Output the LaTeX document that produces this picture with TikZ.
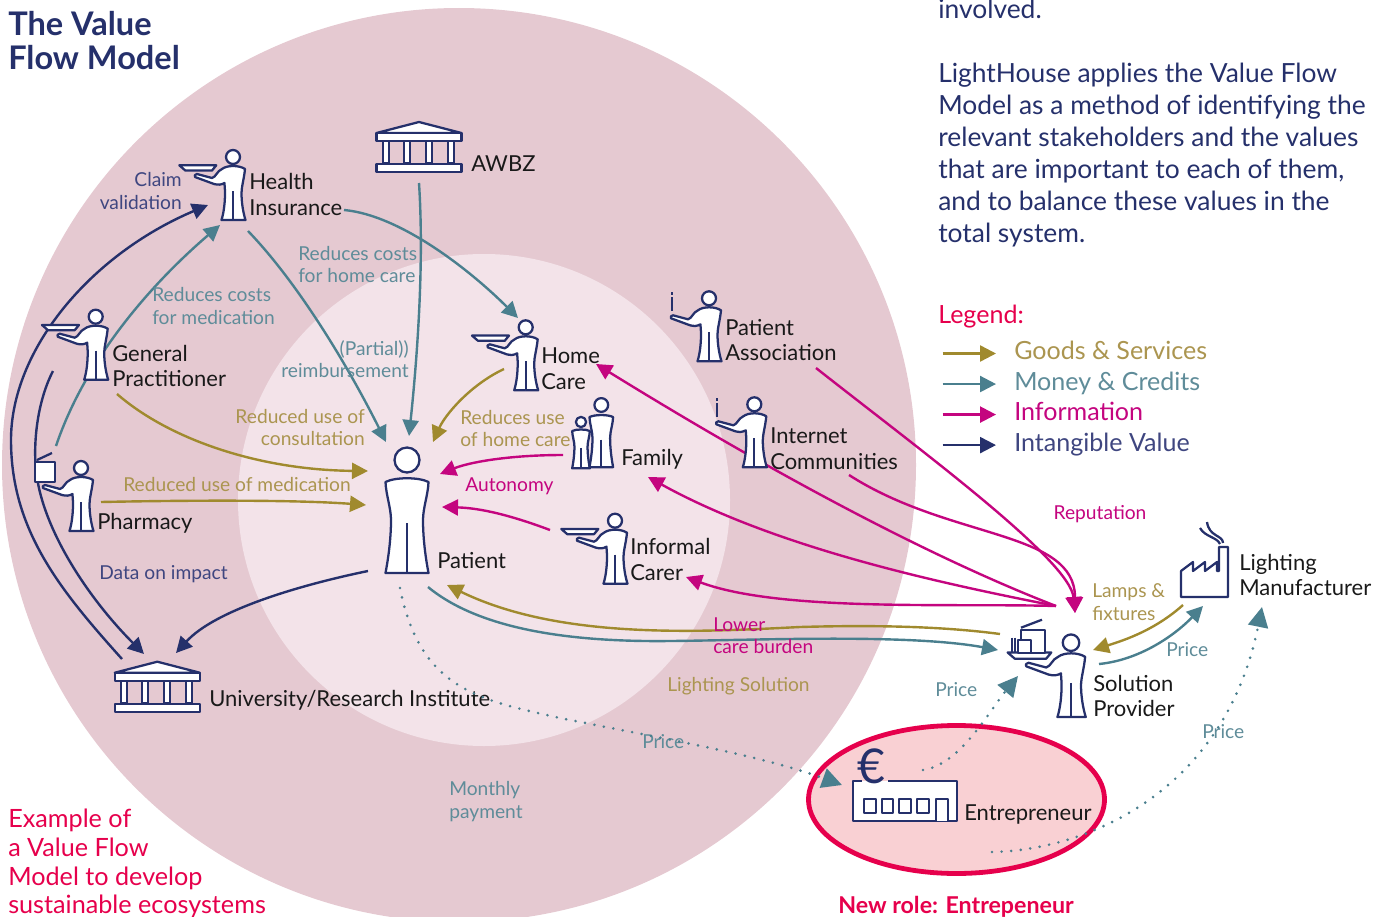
\documentclass[tikz,border=0pt]{standalone}
\usepackage{fontspec}
\setmainfont{Lato}
\usetikzlibrary{arrows.meta,positioning,shapes.geometric,backgrounds}
\definecolor{navy}{HTML}{25306B}
\definecolor{gold}{HTML}{A08A2E}
\definecolor{teal}{HTML}{4A7F8E}
\definecolor{magenta}{HTML}{C4057F}
\definecolor{crimson}{HTML}{E6004C}
\definecolor{goldtext}{HTML}{AB9550}
\definecolor{tealtext}{HTML}{5F8C99}
\definecolor{navytext}{HTML}{3F4680}
\definecolor{outerpink}{HTML}{E5C9D1}
\definecolor{innerpink}{HTML}{F3E3E9}
\definecolor{rolepink}{HTML}{F9D0D3}
\tikzstyle{icon} = [draw=navy, fill=white, line width=1.7pt, line join=round]
\tikzstyle{actor} = [inner sep=0pt, align=left, text=black!90,
    font=\fontsize{16.5}{19.4}\selectfont]
\tikzstyle{note} = [inner sep=0pt, font=\fontsize{14.4}{16.8}\selectfont]
\tikzstyle{legendtext} = [inner sep=0pt, anchor=west, text height=12pt, text depth=3pt,
    font=\fontsize{18.8}{22}\selectfont]
\tikzstyle{line} = [draw, line width=1.8pt, -{Triangle[length=12pt,width=12pt]}]
\tikzstyle{dots} = [draw=teal, line width=2.2pt, line cap=round,
    dash pattern=on 0pt off 7.2pt, -{Triangle[length=15pt,width=15pt]}]
\tikzset{
    waiter/.pic={
        \draw [icon] (0,0) circle (7);
        \draw [icon] (-11,12) .. controls (-6,8) and (6,8) .. (12,12)
            .. controls (11,22) and (8.5,30) .. (8.5,36)
            .. controls (8.5,45) and (10,55) .. (12.5,63) -- (-11.5,63)
            .. controls (-9,55) and (-8,45) .. (-8,36)
            .. controls (-8,32) and (-8.5,28) .. (-8.5,26)
            .. controls (-12,28) and (-15,28) .. (-19,27) -- (-38,20)
            .. controls (-39,19) and (-38,17) .. (-36,17) -- (-21,21)
            .. controls (-17,20) and (-16,14) .. (-11,12) -- cycle;
        \draw [icon] (0,34) -- (0,63);
    },
    tray/.pic={
        \draw [icon] (-53.7,8.3) -- (-16.7,8.3) -- (-21,13.5) -- (-47.7,13.5) -- cycle;
    },
    info/.pic={
        \draw [icon] (-37,-6) -- (-37,-3.5) (-37,-1) -- (-37,13);
    },
    person/.pic={
        \draw [icon] (0,0) circle (12.5);
        \draw [icon] (-21.5,22) .. controls (-12,17) and (12,17) .. (21.5,22)
            .. controls (21,35) and (16,48) .. (16,60)
            .. controls (16,80) and (19,100) .. (21.5,113) -- (-21.5,113)
            .. controls (-19,100) and (-16,80) .. (-16,60)
            .. controls (-16,48) and (-21,35) .. (-21.5,22) -- cycle;
        \draw [icon] (0,63) -- (0,113);
    },
    bank/.pic={
        \draw [icon] (0,0) -- (42.5,11) -- (-42.5,11) -- cycle;
        \draw [icon] (-42.5,11) rectangle (42.5,19);
        \draw [icon] (-36,19) rectangle (-30,41);
        \draw [icon] (-15,19) rectangle (-9,41);
        \draw [icon] (7,19) rectangle (13,41);
        \draw [icon] (29,19) rectangle (35,41);
        \draw [icon] (-42.5,42) rectangle (42.5,50);
    },
    goods/.pic={
        \draw [icon] (-50,-13) rectangle (-26,10);
        \draw [icon] (-53,-3) rectangle (-40,10);
        \draw [icon] (-50,-15) -- (-29,-23);
        \draw [icon] (-59,-5) -- (-59,10) (-56,-5) -- (-56,10);
    },
    factory/.pic={
        \draw [icon] (0,-26) -- (12,-35) -- (12,-26) -- (24,-35) -- (24,-26) -- (36,-35)
            -- (36,-26) -- (38,-26) -- (38,-50) -- (47,-50) -- (47,0) -- (0,0) -- cycle;
        \draw [icon, fill=none] (42,-54) .. controls (42,-62) and (28,-60) .. (26,-75)
            (39,-53) .. controls (36,-60) and (24,-60) .. (19,-69);
    },
    workshop/.pic={
        \fill [white] (0,0) rectangle (104,40);
        \draw [icon, fill=none] (9,0) -- (0,0) -- (0,40) -- (104,40) -- (104,0) -- (35,0);
        \draw [icon] (11,18) rectangle (23,32);
        \draw [icon] (29,18) rectangle (40,32);
        \draw [icon] (46,18) rectangle (58,32);
        \draw [icon] (64,18) rectangle (76,32);
        \draw [icon] (83,40) -- (83,18) -- (95,18) -- (95,40);
    }
}
\begin{document}
\begin{tikzpicture}[x=0.75pt, y=-0.75pt]
    \useasboundingbox (0,0) rectangle (1385,917);
    % Place nodes
    \pic at (233,157) {waiter};
    \pic at (233,157) {tray};
    \pic at (95.7,316.7) {waiter};
    \pic at (95.7,316.7) {tray};
    \pic at (81,468) {waiter};
    \pic at (525.7,327.3) {waiter};
    \pic at (525.7,327.3) {tray};
    \pic at (615,520.7) {waiter};
    \pic at (615,520.7) {tray};
    \pic at (709,298.3) {waiter};
    \pic at (709,298.3) {info};
    \pic at (754.3,404.3) {waiter};
    \pic at (754.3,404.3) {info};
    \pic [scale=1.18] at (1071,642.7) {waiter};
    \pic [scale=1.18] at (1071,642.7) {tray};
    \pic at (1071,642.7) {goods};
    \pic at (407,460) {person};
    \pic [scale=0.41] at (581,422) {person};
    \pic [scale=0.55] at (601.3,405) {person};
    \pic at (419,122) {bank};
    \pic at (157.3,661.7) {bank};
    \pic at (1181,597) {factory};
    \draw [icon] (35,461.7) rectangle (55,482.3);
    \draw [icon] (37,460) -- (52,453);
    \node [draw=crimson, fill=rolepink, line width=3.6pt, ellipse, inner sep=0pt,
        minimum width=222pt, minimum height=111pt] (role) at (956.5,799.5) {};
    \pic at (853,781) {workshop};
    \node [inner sep=0pt, text=navy, font=\fontsize{36}{36}\selectfont] (euro) at (871,766) {€};

    \node [actor, anchor=west] (hi) at (249,194.5) {Health\\Insurance};
    \node [actor, anchor=west] (awbz) at (471,164) {AWBZ};
    \node [actor, anchor=west] (gp) at (112,366) {General\\Practitioner};
    \node [actor, anchor=west] (ph) at (97,523) {Pharmacy};
    \node [actor, anchor=west] (hc) at (541,369) {Home\\Care};
    \node [actor, anchor=west] (pa) at (725,340) {Patient\\Association};
    \node [actor, anchor=west] (ic) at (770,449) {Internet\\Communities};
    \node [actor, anchor=west] (fam) at (621,459) {Family};
    \node [actor, anchor=west] (car) at (630,559.5) {Informal\\Carer};
    \node [actor, anchor=west] (pat) at (437,561) {Patient};
    \node [actor, anchor=west] (uni) at (209,700) {University/Research Institute};
    \node [actor, anchor=west] (sol) at (1093,696) {Solution\\Provider};
    \node [actor, anchor=west] (man) at (1239,575) {Lighting\\Manufacturer};
    \node [actor, anchor=west] (ent) at (964,814) {Entrepreneur};

    \node [note, anchor=east, align=right, text=navytext] (claim) at (182,191) {Claim\\validation};
    \node [note, anchor=west, align=left, text=tealtext] (rcm) at (152,306) {Reduces costs\\for medication};
    \node [note, anchor=west, align=left, text=tealtext] (rch) at (298,264.5) {Reduces costs\\for home care};
    \node [note, anchor=east, align=right, text=tealtext] (reimb) at (409,359) {(Partial))\\reimbursement};
    \node [note, anchor=east, align=right, text=goldtext] (ruc) at (365,427.5) {Reduced use of\\consultation};
    \node [note, anchor=west, align=left, text=goldtext] (ruh) at (460,428.5) {Reduces use\\of home care};
    \node [note, anchor=west, text=goldtext] (rum) at (123,484.5) {Reduced use of medication};
    \node [note, anchor=west, text=magenta] (aut) at (465,486) {Autonomy};
    \node [note, anchor=west, text=navytext] (dat) at (99,574.5) {Data on impact};
    \node [note, text=magenta] (rep) at (1100,514) {Reputation};
    \node [note, anchor=west, align=left, text=goldtext] (lamps) at (1092,602) {Lamps \&\\fixtures};
    \node [note, anchor=west, align=left, text=magenta] (burden) at (713,635.5) {Lower\\care burden};
    \node [note, anchor=west, text=goldtext] (sol2) at (667,686.5) {Lighting Solution};
    \node [note, anchor=west, text=tealtext] (price1) at (935,690) {Price};
    \node [note, anchor=west, text=tealtext] (price2) at (1166,650) {Price};
    \node [note, anchor=west, text=tealtext] (price3) at (642,741.5) {Price};
    \node [note, anchor=west, text=tealtext] (price4) at (1202,731.5) {Price};
    \node [note, anchor=west, align=left, text=tealtext] (pay) at (449,801.5) {Monthly\\payment};

    \node [inner sep=0pt, anchor=west, align=left, text=navy, font=\bfseries\fontsize{24.4}{26}\selectfont]
        (title) at (8,40.5) {The Value\\Flow Model};
    \node [inner sep=0pt, anchor=north west, align=left, text=navy, font=\fontsize{19.8}{24}\selectfont]
        (story) at (938,-1) {involved.\\[24pt]LightHouse applies the Value Flow\\Model as a method of identifying the\\relevant stakeholders and the values\\that are important to each of them,\\and to balance these values in the\\total system.};
    \node [inner sep=0pt, anchor=west, text=crimson, font=\fontsize{18.8}{22}\selectfont] (legend) at (938,317) {Legend:};
    \node [legendtext, text=goldtext] (goods) at (1014,353.5) {Goods \& Services};
    \node [legendtext, text=tealtext, below=7.5pt of goods.south west, anchor=north west] (money) {Money \& Credits};
    \node [legendtext, text=magenta, below=7.5pt of money.south west, anchor=north west] (inf) {Information};
    \node [legendtext, text=navytext, below=7.5pt of inf.south west, anchor=north west] (intan) {Intangible Value};
    \coordinate [left=13.5pt of goods.west] (goodsB);
    \coordinate [left=40pt of goodsB] (goodsA);
    \coordinate [left=13.5pt of money.west] (moneyB);
    \coordinate [left=40pt of moneyB] (moneyA);
    \coordinate [left=13.5pt of inf.west] (infB);
    \coordinate [left=40pt of infB] (infA);
    \coordinate [left=13.5pt of intan.west] (intanB);
    \coordinate [left=40pt of intanB] (intanA);
    \node [inner sep=0pt, anchor=north west, align=left, text=crimson, font=\fontsize{18.9}{21.5}\selectfont]
        (example) at (8,809) {Example of\\a Value Flow\\Model to develop\\sustainable ecosystems};
    \node [inner sep=0pt, anchor=west, text=crimson, font=\bfseries\fontsize{17.4}{18}\selectfont]
        (newrole) at (838,906.5) {New role: Entrepeneur};

    % Edge ends
    \coordinate (hiOut) at (344,210);
    \coordinate (hiDown) at (248,231);
    \coordinate (hcIn) at (518,318);
    \coordinate (patInA) at (386,442);
    \coordinate (awbzOut) at (419,183);
    \coordinate (patInB) at (409,436);
    \coordinate (phOutT) at (56,446);
    \coordinate (hiInT) at (220,225);
    \coordinate (patOutT) at (428,587);
    \coordinate (solInT) at (998,650);
    \coordinate (solOutG) at (1000,634);
    \coordinate (patInG) at (447,585);
    \coordinate (solOutT) at (1099,664);
    \coordinate (manInT) at (1203,606);
    \coordinate (manOutG) at (1183,605);
    \coordinate (solInG) at (1093,650);
    \coordinate (hcOut) at (504,369);
    \coordinate (patInC) at (433,442);
    \coordinate (gpOutG) at (117,394);
    \coordinate (patInD) at (368,471);
    \coordinate (phOutG) at (101,502);
    \coordinate (patInE) at (366,505);
    \coordinate (uniOutN) at (122,659);
    \coordinate (hiInN) at (208,205);
    \coordinate (gpOutN) at (53,371);
    \coordinate (uniInA) at (144,654);
    \coordinate (patOutN) at (368,571);
    \coordinate (uniInB) at (176,653);
    \coordinate (solHub) at (1056,606);
    \coordinate (hcInM) at (596,364);
    \coordinate (famInM) at (648,477);
    \coordinate (carInM) at (686,577);
    \coordinate (paOut) at (816,368);
    \coordinate (solInM) at (1075,613);
    \coordinate (icOut) at (849,475);
    \coordinate (famOut) at (563,455);
    \coordinate (patInF) at (440,474);
    \coordinate (carOut) at (550,530);
    \coordinate (patInH) at (442,507);
    \coordinate (patOutD) at (400,588);
    \coordinate (roleIn) at (842,785);
    \coordinate (roleOutA) at (923,770);
    \coordinate (solInD) at (1018,676);
    \coordinate (roleOutB) at (992,852);
    \coordinate (manInD) at (1262,607);

    % Draw edges
    \begin{scope}[on background layer]
    \fill [outerpink] (459,465) circle (457);
    \fill [innerpink] (484,500) circle (246);
    \path [line, draw=teal] (hiOut) .. controls (400,215) and (470,270) .. (hcIn);
    \path [line, draw=teal] (hiDown) .. controls (300,285) and (350,370) .. (patInA);
    \path [line, draw=teal] (awbzOut) .. controls (424,260) and (418,350) .. (patInB);
    \path [line, draw=teal] (phOutT) .. controls (85,360) and (150,285) .. (hiInT);
    \path [line, draw=teal] (patOutT) .. controls (480,630) and (570,640) .. (645,641)
        .. controls (720,642) and (900,632) .. (solInT);
    \path [line, draw=teal] (solOutT) .. controls (1140,660) and (1175,635) .. (manInT);
    \path [line, draw=gold] (solOutG) .. controls (940,626) and (870,625) .. (800,627)
        .. controls (700,632) and (560,640) .. (patInG);
    \path [line, draw=gold] (manOutG) .. controls (1155,630) and (1125,640) .. (solInG);
    \path [line, draw=gold] (hcOut) .. controls (470,385) and (445,415) .. (patInC);
    \path [line, draw=gold] (gpOutG) .. controls (170,440) and (260,470) .. (patInD);
    \path [line, draw=gold] (phOutG) .. controls (200,500) and (300,500) .. (patInE);
    \path [line, draw=navy] (uniOutN) .. controls (60,590) and (11,530) .. (11,440)
        .. controls (11,350) and (90,255) .. (hiInN);
    \path [line, draw=navy] (gpOutN) .. controls (38,400) and (33,440) .. (36,470)
        .. controls (42,530) and (90,600) .. (uniInA);
    \path [line, draw=navy] (patOutN) .. controls (300,585) and (215,610) .. (uniInB);
    \path [line, draw=magenta] (solHub) .. controls (950,565) and (800,490) .. (hcInM);
    \path [line, draw=magenta] (solHub) .. controls (950,585) and (780,550) .. (famInM);
    \path [line, draw=magenta] (solHub) .. controls (950,603) and (780,612) .. (carInM);
    \path [line, draw=magenta] (paOut) .. controls (920,450) and (1070,560) .. (solInM);
    \path [line, draw=magenta] (icOut) .. controls (950,540) and (1075,530) .. (solInM);
    \path [line, draw=magenta] (famOut) .. controls (510,455) and (470,462) .. (patInF);
    \path [line, draw=magenta] (carOut) .. controls (510,515) and (480,508) .. (patInH);
    \end{scope}
    \path [dots] (patOutD) .. controls (420,690) and (480,700) .. (560,718)
        .. controls (660,738) and (760,755) .. (roleIn);
    \path [dots] (roleOutA) .. controls (960,765) and (990,710) .. (solInD);
    \path [dots] (roleOutB) .. controls (1090,850) and (1225,790) .. (manInD);
    \path [line, draw=gold] (goodsA) -- (goodsB);
    \path [line, draw=teal] (moneyA) -- (moneyB);
    \path [line, draw=magenta] (infA) -- (infB);
    \path [line, draw=navy] (intanA) -- (intanB);
\end{tikzpicture}
\end{document}
